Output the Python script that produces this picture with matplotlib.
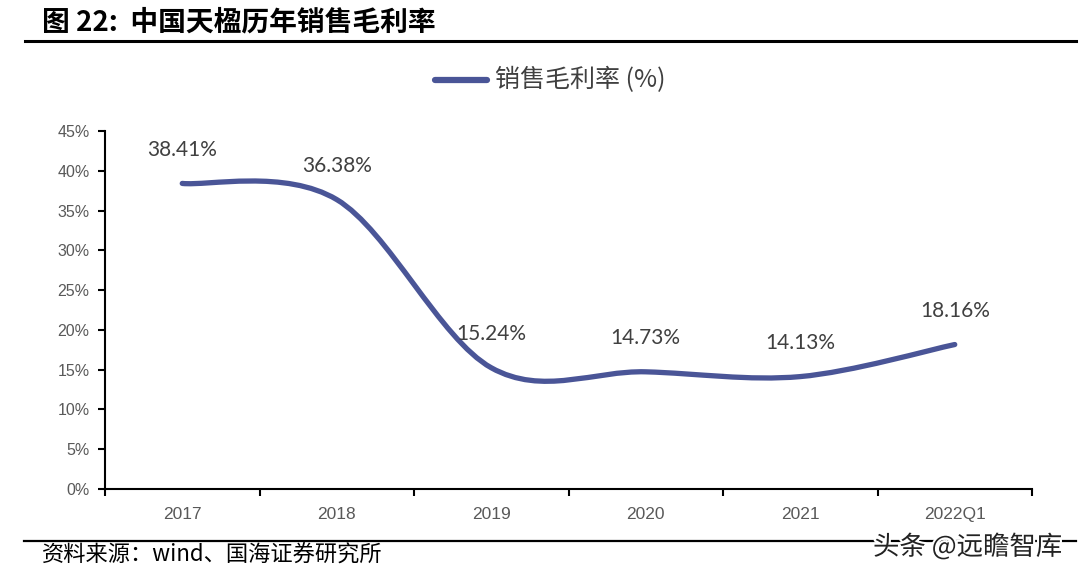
import numpy as np
import matplotlib
matplotlib.use("Agg")
import matplotlib.pyplot as plt
from matplotlib.path import Path
from matplotlib.patches import PathPatch
from matplotlib.lines import Line2D
import matplotlib.patheffects as pe

plt.rcParams['font.family'] = ['Noto Sans CJK SC', 'DejaVu Sans']

# data
years = ['2017', '2018', '2019', '2020', '2021', '2022Q1']
margin = [38.41, 36.38, 15.24, 14.73, 14.13, 18.16]
yticks = [0, 5, 10, 15, 20, 25, 30, 35, 40, 45]

line_c = '#4A5597'
txt_c = '#404040'

fig = plt.figure(figsize=(10.9, 5.77), dpi=100)
ax = fig.add_axes([105/1090, 1-489/577, 927/1090, 358/577])

x = np.arange(len(margin))
y = np.array(margin)

# excel-like smoothed line (bezier through every point)
verts = [(x[0], y[0])]
codes = [Path.MOVETO]
n = len(x)
for i in range(n-1):
    p0 = np.array([x[max(i-1, 0)], y[max(i-1, 0)]])
    p1 = np.array([x[i], y[i]])
    p2 = np.array([x[i+1], y[i+1]])
    p3 = np.array([x[min(i+2, n-1)], y[min(i+2, n-1)]])
    c1 = p1 + (p2 - p0)/6
    c2 = p2 - (p3 - p1)/6
    verts += [tuple(c1), tuple(c2), tuple(p2)]
    codes += [Path.CURVE4]*3
ax.add_patch(PathPatch(Path(verts, codes), fill=False, edgecolor=line_c,
                       lw=3.8, capstyle='round', joinstyle='round'))

for xi, yi in zip(x, y):
    ax.annotate(f'{yi:.2f}%', (xi, yi), xytext=(0, 17), textcoords='offset points',
                ha='center', va='bottom', fontsize=15, color=txt_c,
                family=['Lato', 'DejaVu Sans'])

ax.set_xlim(-0.5, len(years)-0.5)
ax.set_ylim(0, 45)
ax.set_yticks(yticks)
ax.set_yticklabels([f'{v}%' for v in yticks], family=['Liberation Sans'],
                   fontsize=11.5, color='#595959')
ax.set_xticks(x)
ax.set_xticklabels(years, family=['Liberation Sans'], fontsize=12.5, color='#595959')
ax.set_xticks(np.arange(-0.5, len(years), 1), minor=True)
ax.tick_params(axis='x', which='major', length=0, pad=13)
ax.tick_params(axis='x', which='minor', length=5, width=1.5, color='black')
ax.tick_params(axis='y', length=5, width=1.5, color='black', pad=6)
for s in ['top', 'right']:
    ax.spines[s].set_visible(False)
for s in ['left', 'bottom']:
    ax.spines[s].set_linewidth(1.5)
    ax.spines[s].set_color('black')

# legend
fig.add_artist(Line2D([435/1090, 487/1090], [1-80/577, 1-80/577], color=line_c,
                      lw=4.5, solid_capstyle='round'))
fig.text(495/1090, 1-80/577, '销售毛利率 (%)', fontsize=18, color=txt_c, va='center')

# title and source
fig.text(42/1090, 1-22/577, '图 22:  中国天楹历年销售毛利率', fontsize=20,
         fontweight='bold', va='center', color='black')
fig.add_artist(Line2D([25/1090, 1076/1090], [1-41/577, 1-41/577], color='black', lw=2.2))
fig.add_artist(Line2D([24/1090, 1076/1090], [1-541/577, 1-541/577], color='black', lw=1.6))
fig.text(42/1090, 1-555/577, '资料来源：wind、国海证券研究所', fontsize=16,
         va='center', color='black')
fig.text(873/1090, 1-547/577, '头条 @远瞻智库', fontsize=19, va='center', color='#222222',
         path_effects=[pe.withStroke(linewidth=3, foreground='white')])

fig.savefig('out.png', dpi=100)
